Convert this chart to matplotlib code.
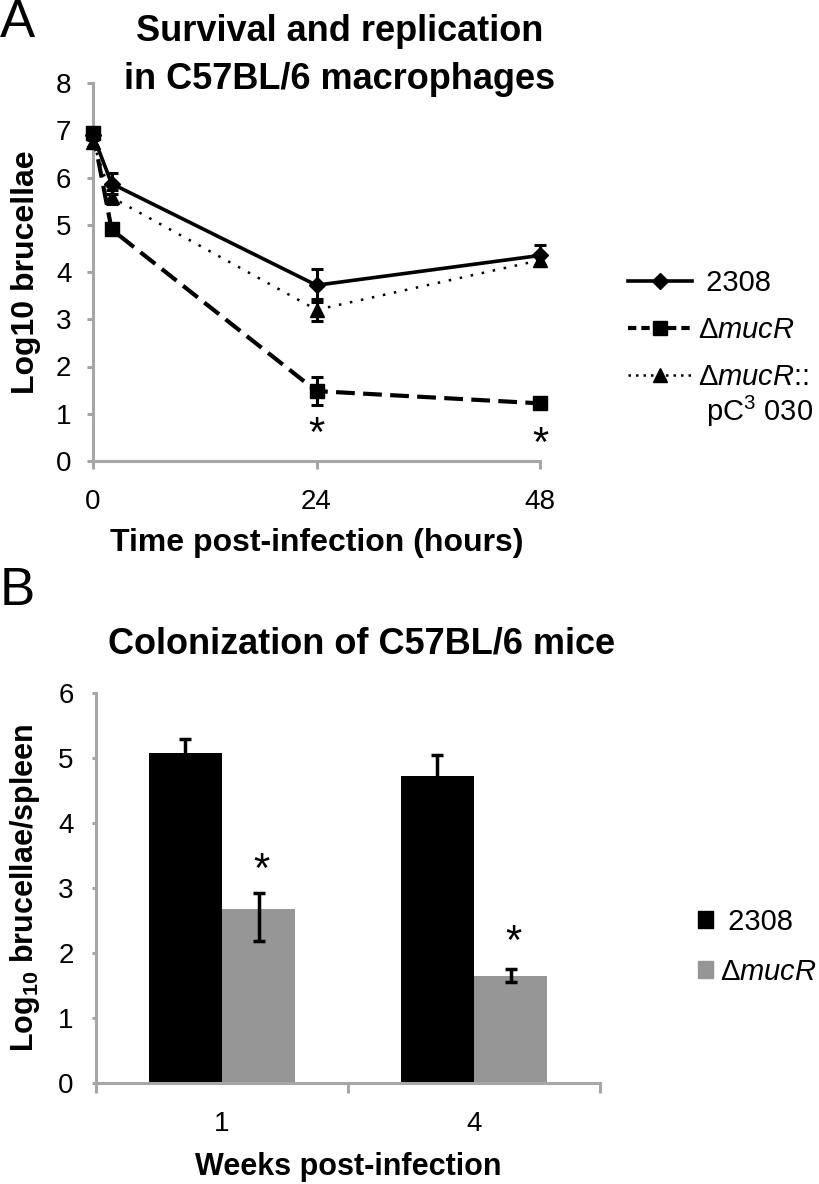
import matplotlib
matplotlib.use('Agg')
import matplotlib.pyplot as plt
from matplotlib.lines import Line2D
from matplotlib.patches import Patch

plt.rcParams['font.family'] = ['Liberation Sans', 'DejaVu Sans']
plt.rcParams['mathtext.fontset'] = 'custom'
plt.rcParams['mathtext.rm'] = 'Liberation Sans'
plt.rcParams['mathtext.it'] = 'Liberation Sans:italic'
plt.rcParams['mathtext.bf'] = 'Liberation Sans:bold'

# Панель A: выживание в макрофагах
hours = [0, 2, 24, 48]
wt = [6.9, 5.87, 3.72, 4.35]
wt_err = [0.1, 0.22, 0.35, 0.23]
mut = [6.95, 4.9, 1.48, 1.22]
mut_err = [0.1, 0.08, 0.3, 0.1]
comp = [6.75, 5.58, 3.2, 4.25]
comp_err = [0.1, 0.15, 0.23, 0.1]
star_a_x = [24, 48]
star_a_y = [0.55, 0.33]

# Панель B: колонизация селезенки
weeks = ['1', '4']
wt_b = [5.07, 4.73]
wt_b_err = [0.22, 0.32]
mut_b = [2.68, 1.65]
mut_b_err_low = [0.5, 0.1]
mut_b_err_high = [0.25, 0.1]
star_b_y = [3.26, 2.16]

axis_gray = '#a6a6a6'
bar_gray = '#969696'
W, H = 820, 1184

fig = plt.figure(figsize=(W / 100, H / 100), dpi=100)

# ---------- A ----------
ax1 = fig.add_axes([93 / W, 1 - 461 / H, 447 / W, 378 / H])
ax1.errorbar(hours, comp, yerr=comp_err, color='black', lw=1.8, dashes=(1, 3.5),
             marker='^', ms=10, elinewidth=2.2, capsize=4, capthick=2.2, clip_on=False, zorder=3)
ax1.errorbar(hours, mut, yerr=mut_err, color='black', lw=3, dashes=(4.5, 2),
             marker='s', ms=10, elinewidth=2.2, capsize=4, capthick=2.2, clip_on=False, zorder=4)
ax1.errorbar(hours, wt, yerr=wt_err, color='black', lw=2.6, ls='-',
             marker='D', ms=8, elinewidth=2.2, capsize=4, capthick=2.2, clip_on=False, zorder=5)
for x, y in zip(star_a_x, star_a_y):
    ax1.text(x, y, '*', ha='center', va='center', fontsize=30)

ax1.set_xlim(0, 48)
ax1.set_ylim(0, 8)
ax1.set_xticks([0, 24, 48])
ax1.set_yticks(range(0, 9))
for s in ['top', 'right']:
    ax1.spines[s].set_visible(False)
for s in ['left', 'bottom']:
    ax1.spines[s].set_color(axis_gray)
    ax1.spines[s].set_linewidth(2.2)
ax1.tick_params(axis='x', length=5.5, width=2.2, color=axis_gray, pad=15, labelsize=20)
ax1.tick_params(axis='y', length=4.5, width=2.2, color=axis_gray, pad=11, labelsize=20)
ax1.set_xlabel('Time post-infection (hours)', fontsize=23, fontweight='bold', labelpad=9)
ax1.set_ylabel('Log10 brucellae', fontsize=23, fontweight='bold', labelpad=11)

fig.text(340 / W, 1 - 41 / H, 'Survival and replication', ha='center', va='baseline',
         fontsize=26, fontweight='bold')
fig.text(340 / W, 1 - 89 / H, 'in C57BL/6 macrophages', ha='center', va='baseline',
         fontsize=26, fontweight='bold')
fig.text(0, 1 - 23 / H, 'A', ha='left', va='center', fontsize=38)

handles_a = [
    Line2D([], [], color='black', lw=2.6, marker='D', ms=8),
    Line2D([], [], color='black', lw=3, dashes=(2, 1.2), marker='s', ms=10),
    Line2D([], [], color='black', lw=1.8, dashes=(1, 2), marker='^', ms=10),
]
labels_a = [' 2308', 'Δ$\\mathit{mucR}$', 'Δ$\\mathit{mucR}$::']
fig.legend(handles_a, labels_a, loc='center left', bbox_to_anchor=(628 / W, 1 - 330 / H),
           frameon=False, fontsize=21, handlelength=2.2, handletextpad=0.2,
           labelspacing=0.66, borderpad=0, borderaxespad=0)
fig.text(706 / W, 1 - 411 / H, 'pC$^3$ 030', ha='left', va='center', fontsize=21)

# ---------- B ----------
ax2 = fig.add_axes([96 / W, 1 - 1083 / H, 504 / W, 390 / H])
pos = list(range(len(weeks)))
bw = 0.29
pos_wt = [p - bw / 2 for p in pos]
pos_mut = [p + bw / 2 for p in pos]
ax2.bar(pos_wt, wt_b, width=bw, color='black')
ax2.bar(pos_mut, mut_b, width=bw, color=bar_gray)
ax2.errorbar(pos_wt, wt_b, yerr=wt_b_err, fmt='none', ecolor='black',
             elinewidth=2.5, capsize=4, capthick=2.5)
ax2.errorbar(pos_mut, mut_b, yerr=[mut_b_err_low, mut_b_err_high], fmt='none', ecolor='black',
             elinewidth=2.5, capsize=4, capthick=2.5)
for x, y in zip(pos_mut, star_b_y):
    ax2.text(x + 0.01, y, '*', ha='center', va='center', fontsize=30)

ax2.set_xlim(-0.5, 1.5)
ax2.set_ylim(0, 6)
ax2.set_xticks(pos)
ax2.set_xticklabels(weeks)
ax2.set_xticks([-0.5, 0.5, 1.5], minor=True)
ax2.set_yticks(range(0, 7))
for s in ['top', 'right']:
    ax2.spines[s].set_visible(False)
for s in ['left', 'bottom']:
    ax2.spines[s].set_color(axis_gray)
    ax2.spines[s].set_linewidth(2.2)
ax2.tick_params(axis='x', which='major', length=0, pad=20, labelsize=20)
ax2.tick_params(axis='x', which='minor', length=7, width=2.2, color=axis_gray)
ax2.tick_params(axis='y', length=3, width=2.2, color=axis_gray, pad=13, labelsize=20)
ax2.set_xlabel('Weeks post-infection', fontsize=22, fontweight='bold', labelpad=11)
ax2.set_ylabel('Log$_{\\mathbf{10}}$ brucellae/spleen', fontsize=22, fontweight='bold', labelpad=12)

fig.text(362 / W, 1 - 653 / H, 'Colonization of C57BL/6 mice', ha='center', va='baseline',
         fontsize=26, fontweight='bold')
fig.text(0, 1 - 591 / H, 'B', ha='left', va='center', fontsize=38)

handles_b = [Patch(color='black'), Patch(color=bar_gray)]
labels_b = [' 2308', 'Δ$\\mathit{mucR}$']
fig.legend(handles_b, labels_b, loc='center left', bbox_to_anchor=(698 / W, 1 - 947 / H),
           frameon=False, fontsize=21, handlelength=0.52, handleheight=0.52,
           handletextpad=0.25, labelspacing=0.75, borderpad=0, borderaxespad=0)

fig.savefig('out.png', dpi=100)
